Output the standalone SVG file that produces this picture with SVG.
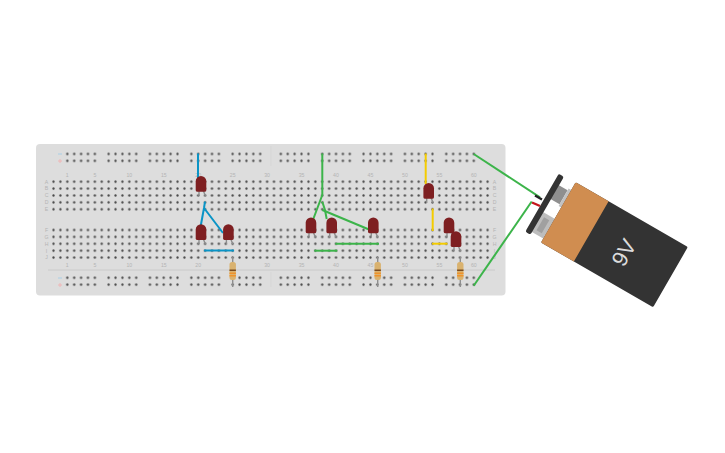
<svg xmlns="http://www.w3.org/2000/svg" width="725" height="453" viewBox="0 0 725 453">
<style>
.lab{font-family:"Liberation Sans",Arial,sans-serif;font-size:5.2px;fill:#b4b4b4;text-anchor:middle}
.w{fill:none;stroke-width:2;stroke-linecap:butt;stroke-linejoin:round}
.b{stroke:#0a94c6}.g{stroke:#3cb44a}.y{stroke:#f4cc00}
.rail{fill:url(#h);width:34.45px;height:13.78px}
.lead{stroke:#8e8e8e;stroke-width:1.4;fill:none}
</style>
<defs>
<pattern id="h" width="6.89" height="6.89" patternUnits="userSpaceOnUse"><circle cx="3.445" cy="3.445" r="1.15" fill="#484848"/></pattern>
<g id="led">
<path class="lead" d="M-2 14V20M2 14L4.500 20"/>
<path d="M-5.300 14V5.300A5.300 5.300 0 0 1 5.300 5.300V14Q5.300 15.800 4 15.800H-4Q-5.300 15.800 -5.300 14Z" fill="#7e1f21"/>
</g>
<g id="res">
<path d="M0 0V30" stroke="#8e8e8e" stroke-width="1.4"/>
<rect x="-3.200" y="5" width="6.400" height="18" rx="2.500" fill="#d9b26f"/>
<rect x="-3.200" y="12.500" width="6.400" height="1.500" fill="#7a4a1e"/>
<rect x="-3.200" y="15.500" width="6.400" height="1.500" fill="#f0922a"/>
<rect x="-3.200" y="18" width="6.400" height="1.500" fill="#f0922a"/>
</g>
</defs>
<g id="breadboard">
<rect x="36" y="144" width="469.500" height="151.500" rx="4" fill="#dddddd"/>
<path d="M48 270H495" stroke="#c6c6c6" stroke-width="0.8"/>
<path d="M271 146V166M271 272V287" stroke="#d2d2d2" stroke-width="0.7"/>
<rect transform="translate(50.07,178.25)" width="441" height="34.45" fill="url(#h)"/>
<rect transform="translate(50.07,226.55)" width="441" height="34.45" fill="url(#h)"/>
<rect class="rail" transform="translate(63.86,150.500)"/><rect class="rail" transform="translate(105.2,150.500)"/><rect class="rail" transform="translate(146.5,150.500)"/><rect class="rail" transform="translate(187.9,150.500)"/><rect class="rail" transform="translate(229.2,150.500)"/><rect class="rail" transform="translate(277.4,150.500)"/><rect class="rail" transform="translate(318.8,150.500)"/><rect class="rail" transform="translate(360.1,150.500)"/><rect class="rail" transform="translate(401.5,150.500)"/><rect class="rail" transform="translate(442.8,150.500)"/>
<rect class="rail" transform="translate(63.86,274.3)"/><rect class="rail" transform="translate(105.2,274.3)"/><rect class="rail" transform="translate(146.5,274.3)"/><rect class="rail" transform="translate(187.9,274.3)"/><rect class="rail" transform="translate(229.2,274.3)"/><rect class="rail" transform="translate(277.4,274.3)"/><rect class="rail" transform="translate(318.8,274.3)"/><rect class="rail" transform="translate(360.1,274.3)"/><rect class="rail" transform="translate(401.5,274.3)"/><rect class="rail" transform="translate(442.8,274.3)"/>
<path d="M58 154H62M58 278H62" stroke="#a9cfe6" stroke-width="1"/>
<path d="M58 161H62M60 159V163M58 285H62M60 283V287" stroke="#efb6b6" stroke-width="1"/>
<g class="lab">
<text x="67.3" y="177">1</text><text x="94.9" y="177">5</text><text x="129.3" y="177">10</text><text x="163.8" y="177">15</text><text x="198.2" y="177">20</text><text x="232.7" y="177">25</text><text x="267.1" y="177">30</text><text x="301.6" y="177">35</text><text x="336" y="177">40</text><text x="370.5" y="177">45</text><text x="404.9" y="177">50</text><text x="439.4" y="177">55</text><text x="473.8" y="177">60</text>
<text x="67.3" y="266.500">1</text><text x="94.9" y="266.500">5</text><text x="129.3" y="266.500">10</text><text x="163.8" y="266.500">15</text><text x="198.2" y="266.500">20</text><text x="232.7" y="266.500">25</text><text x="267.1" y="266.500">30</text><text x="301.6" y="266.500">35</text><text x="336" y="266.500">40</text><text x="370.5" y="266.500">45</text><text x="404.9" y="266.500">50</text><text x="439.4" y="266.500">55</text><text x="473.8" y="266.500">60</text>
<text x="46.500" y="183.5">A</text><text x="46.500" y="190.4">B</text><text x="46.500" y="197.3">C</text><text x="46.500" y="204.1">D</text><text x="46.500" y="211">E</text><text x="46.500" y="231.8">F</text><text x="46.500" y="238.8">G</text><text x="46.500" y="245.6">H</text><text x="46.500" y="252.5">I</text><text x="46.500" y="259.4">J</text>
<text x="494.5" y="183.5">A</text><text x="494.5" y="190.4">B</text><text x="494.5" y="197.3">C</text><text x="494.5" y="204.1">D</text><text x="494.5" y="211">E</text><text x="494.5" y="231.8">F</text><text x="494.5" y="238.8">G</text><text x="494.5" y="245.6">H</text><text x="494.5" y="252.5">I</text><text x="494.5" y="259.4">J</text>
</g>
</g>
<g id="connectors">
<path class="w b" d="M198 153.500V180"/>
<path class="w b" d="M205 201.700L204 208L200.700 226M204 208L223 233"/>
<path class="w b" d="M204 250.500H234"/>
<path class="w g" d="M322.300 153.500V195L313.300 219"/>
<path class="w g" d="M322.300 201.700L325 210L326.700 219"/>
<path class="w g" d="M322.300 210L369 229.500"/>
<path class="w g" d="M335.300 243.700H379"/>
<path class="w g" d="M314.300 250.700H337.300"/>
<path class="w g" d="M473.700 154L540 197.300"/>
<path class="w g" d="M473.700 285.700L531.700 201.500"/>
<path class="w y" d="M425.700 153.500V184"/>
<path class="w y" d="M432.700 208.500V231"/>
<path class="w y" d="M432 243.700H447.500"/>
</g>
<g id="led1"><use href="#led" x="201" y="176"/></g>
<g id="led2"><use href="#led" x="201" y="224.300"/></g>
<g id="led3"><use href="#led" x="228.400" y="224.300"/></g>
<g id="led4"><use href="#led" x="311" y="217.500"/></g>
<g id="led5"><use href="#led" x="331.700" y="217.500"/></g>
<g id="led6"><use href="#led" x="373.300" y="217.500"/></g>
<g id="led7"><use href="#led" x="428.700" y="183"/></g>
<g id="led8"><use href="#led" x="449" y="217.500"/></g>
<g id="led9"><use href="#led" x="456" y="231.300"/></g>
<g id="r1"><use href="#res" x="232.700" y="257"/></g>
<g id="r2"><use href="#res" x="377.700" y="257"/></g>
<g id="r3"><use href="#res" x="460.300" y="257"/></g>
<g id="battery">
<g transform="translate(575.700,182.300) rotate(30)">
<rect x="-14" y="11" width="11" height="16" fill="#8f8f8f"/>
<rect x="-3" y="9" width="3" height="20" fill="#c2c2c2"/>
<rect x="-14" y="42" width="14" height="23" fill="#bdbdbd"/>
<rect x="-10" y="46" width="6" height="15" fill="#a0a0a0"/>
<rect x="0" y="0" width="129.500" height="69.500" rx="1.500" fill="#333333"/>
<path d="M1.500 0H38V69.500H1.500Q0 69.500 0 68V1.500Q0 0 1.500 0Z" fill="#d08d50"/>
<rect x="-19" y="1" width="6" height="67" rx="2" fill="#333333"/>
<text transform="translate(77,36.800) rotate(-90)" y="7.500" text-anchor="middle" font-family="'Liberation Sans',Arial,sans-serif" font-size="22" fill="#dcdcdc">9V</text>
</g>
<path d="M535 195.500L542 199.500" stroke="#222222" stroke-width="2.200" fill="none"/>
<path d="M532 202.500L540 206" stroke="#c4161c" stroke-width="2.400" fill="none"/>
</g>
</svg>
